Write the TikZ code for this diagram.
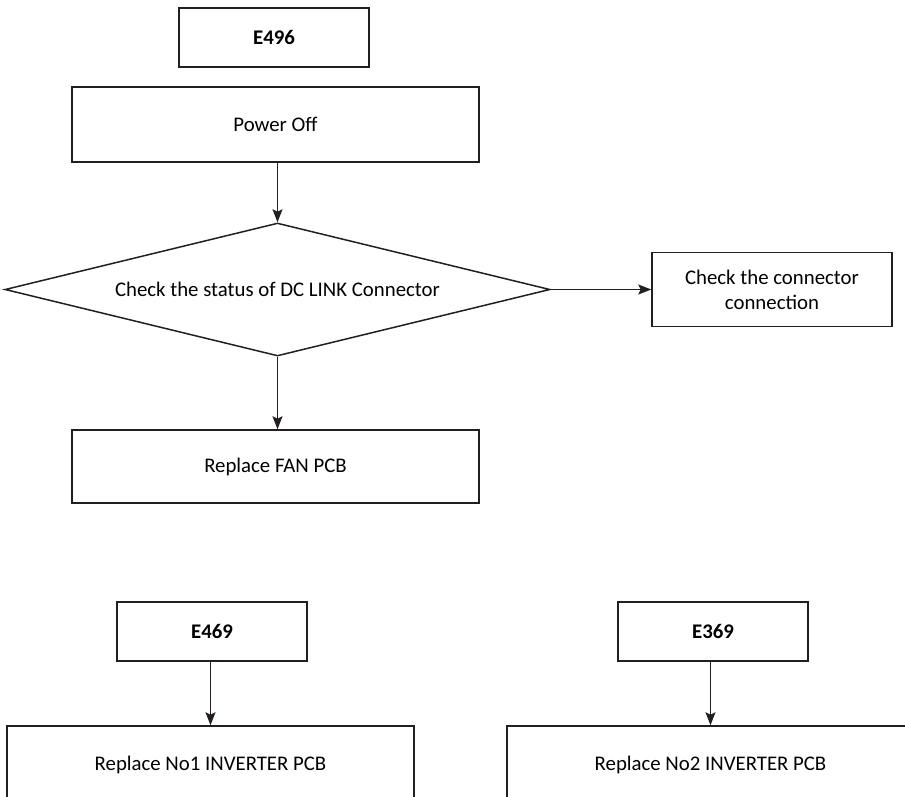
\documentclass[tikz,border=0pt]{standalone}
\usepackage{fontspec}
\setmainfont{Carlito}
\usepackage{tikz}
\usetikzlibrary{arrows.meta,positioning,shapes.geometric}
\definecolor{oline}{HTML}{231F20}

\begin{document}
\begin{tikzpicture}[
  x=1pt,y=-1pt,
  font=\fontsize{20.8}{25}\selectfont,
  code/.style={draw=oline,line width=1.5pt,minimum width=190pt,
               minimum height=59pt,inner sep=0pt,font=\fontsize{20.8}{25}\selectfont\bfseries},
  box/.style={draw=oline,line width=1.5pt,minimum width=407pt,
              minimum height=75pt,inner sep=0pt},
  dec/.style={diamond,draw=oline,line width=1.5pt,aspect=4,inner sep=0pt,
              minimum width=545pt,minimum height=133pt},
  a/.style={-{Stealth[length=13pt,width=10pt,inset=2.5pt]},draw=oline,line width=1.5pt}
]
\useasboundingbox (0,0) rectangle (905,796);
% E496 branch
\node[code] (e496) at (274,37.5) {E496};
\node[box] (off) at (275.5,124.5) {Power Off};
\node[dec] (chk) at (277.5,289.5) {Check the status of DC LINK Connector};
\node[box,minimum width=240pt,minimum height=74pt,align=center] (conn) at (772,289.5)
  {Check the connector\\connection};
\node[box,minimum height=73pt] (fan) at (275.5,466.5) {Replace FAN PCB};

% E469 / E369
\node[code] (e469) at (212,631.5) {E469};
\node[box,minimum height=78pt] (inv1) at (210.5,765) {Replace No1 INVERTER PCB};
\node[code] (e369) at (713,631.5) {E369};
\node[box,minimum height=78pt] (inv2) at (710.5,765) {Replace No2 INVERTER PCB};

\draw[a] (off.south -| chk.north) -- (chk.north);
\draw[a] (chk.east) -- (conn.west);
\draw[a] (chk.south) -- (chk.south |- fan.north);
\draw[a] (e469.south -| inv1.north) -- (inv1.north);
\draw[a] (e369.south -| inv2.north) -- (inv2.north);
\end{tikzpicture}
\end{document}
